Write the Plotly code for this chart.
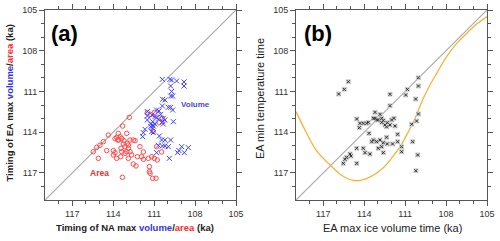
import plotly.graph_objects as go

# ---------------- data ----------------
# Panel (a): Volume (blue x)
vol_na = [110.40, 109.84, 109.72, 109.35, 108.81, 108.81, 109.79, 109.72, 109.79, 109.64,
          110.38, 110.21, 110.40, 109.96, 109.79, 109.64, 110.64, 110.82, 111.50, 111.50,
          111.15, 110.94, 110.82, 110.52, 110.33, 110.21, 110.69, 111.50, 109.59, 111.11,
          111.25, 110.94, 110.40, 110.33, 111.06, 111.25, 111.13, 111.67, 111.79, 111.84,
          111.11, 111.18, 111.06, 110.62, 110.45, 110.21, 109.79, 110.69, 110.40, 110.21,
          109.96, 108.98, 108.49, 109.18, 109.28, 108.79, 110.82, 109.89]
vol_ea = [110.11, 110.11, 110.16, 110.23, 110.30, 110.60, 110.60, 111.00, 111.34, 111.34,
          111.58, 111.63, 112.07, 112.17, 112.17, 112.37, 112.44, 112.37, 112.49, 112.81,
          112.74, 112.86, 112.90, 112.69, 112.98, 113.10, 113.04, 113.10, 113.23, 113.23,
          113.40, 113.40, 113.23, 113.40, 113.55, 113.60, 113.48, 113.79, 114.04, 114.33,
          113.70, 113.96, 114.04, 114.28, 114.58, 114.58, 114.58, 114.97, 115.02, 115.02,
          115.07, 115.07, 115.14, 115.36, 115.51, 115.51, 115.51, 115.93]

# Panel (a): Area (red circles)
area_na = [112.82, 113.31, 113.01, 114.36, 114.72, 114.97, 115.21, 113.63, 113.50, 113.75,
           113.87, 113.67, 113.60, 113.38, 113.21, 112.77, 112.53, 112.40, 112.97, 113.26,
           112.89, 113.14, 113.43, 112.89, 113.38, 113.01, 112.77, 113.99, 113.87, 113.14,
           112.65, 112.23, 111.92, 111.79, 112.04, 110.82, 110.45, 111.18, 115.46, 115.09,
           114.48, 113.99, 113.75, 113.45, 112.89, 112.53, 112.33, 111.79, 111.35, 110.99,
           110.77, 111.35, 111.30, 111.11, 110.86, 113.33, 111.43, 110.40, 111.06, 110.62,
           110.99, 111.50, 111.25]
area_ea = [112.91, 113.55, 114.09, 114.21, 114.70, 114.97, 115.12, 114.09, 114.33, 114.38,
           114.48, 114.58, 114.58, 114.46, 114.63, 114.58, 114.58, 114.63, 114.82, 114.87,
           114.95, 115.07, 115.19, 115.19, 115.44, 115.44, 115.44, 115.36, 115.51, 115.56,
           115.68, 115.81, 115.81, 115.46, 115.07, 115.07, 115.46, 115.81, 115.44, 115.93,
           115.36, 115.68, 115.93, 115.81, 115.93, 116.35, 116.49, 116.00, 116.54, 115.93,
           116.05, 116.91, 117.03, 117.40, 117.40, 117.33, 115.93, 112.98, 113.95, 113.30,
           112.55, 112.55, 112.70]

# Panel (b): EA max ice volume time vs EA min temperature time
b_vol = [115.16, 115.46, 115.87, 110.03, 110.03, 110.84, 110.96, 110.23, 112.11, 112.11,
         110.03, 110.16, 110.52, 113.21, 114.55, 114.31, 114.07, 113.82, 113.70, 113.33,
         113.21, 113.09, 112.97, 112.84, 112.72, 112.72, 112.60, 112.48, 112.31, 112.11,
         111.82, 111.99, 111.74, 112.36, 114.36, 113.65, 113.33, 113.45, 113.09, 112.84,
         112.72, 112.60, 112.36, 112.31, 111.92, 111.55, 111.55, 111.26, 111.26, 110.45,
         110.08, 110.21, 114.55, 114.07, 113.94, 113.58, 112.97, 115.04, 114.97, 115.29,
         115.41, 115.53, 114.55, 112.60]
b_tmp = [110.28, 110.85, 111.19, 109.99, 110.60, 110.85, 111.26, 111.56, 111.21, 112.05,
         112.66, 113.18, 113.42, 112.54, 113.03, 113.35, 113.35, 113.35, 113.28, 112.98,
         112.98, 113.10, 113.10, 112.69, 112.98, 113.28, 113.15, 113.47, 113.30, 113.47,
         112.98, 113.10, 113.55, 113.60, 113.67, 114.09, 114.58, 114.70, 114.70, 114.58,
         115.07, 114.78, 114.38, 114.87, 114.87, 114.16, 114.70, 115.07, 115.44, 114.70,
         115.68, 116.84, 115.19, 115.19, 115.51, 115.61, 115.19, 115.61, 115.76, 115.86,
         116.00, 116.30, 116.30, 115.51]

# Panel (b): orange curve
curve_x = [119.0, 118.27, 117.53, 116.43, 115.58, 114.60, 113.63, 112.64, 111.91, 111.30,
           110.70, 110.33, 109.67, 109.18, 108.69, 107.96, 107.22, 106.49, 105.76, 105.0]
curve_y = [112.49, 113.97, 115.32, 116.49, 117.23, 117.58, 117.33, 116.66, 115.81, 114.95,
           113.84, 113.11, 111.51, 110.53, 109.67, 108.44, 107.46, 106.72, 106.03, 105.49]

diag = [119, 105]
tick_vals = [117, 114, 111, 108, 105]
tick_text = ["117", "114", "111", "108", "105"]

BLUE = "#3f3fff"
RED = "#ff4a4a"
FONT = "Liberation Sans"

fig = go.Figure()

# Panel a
fig.add_trace(go.Scatter(x=diag, y=diag, mode="lines", line=dict(color="#aaaaaa", width=1.2),
                         xaxis="x", yaxis="y", showlegend=False, hoverinfo="skip"))
fig.add_trace(go.Scatter(x=area_na, y=area_ea, mode="markers",
                         marker=dict(symbol="circle-open", size=4.5, color=RED, line=dict(width=1)),
                         xaxis="x", yaxis="y", showlegend=False))
fig.add_trace(go.Scatter(x=vol_na, y=vol_ea, mode="markers",
                         marker=dict(symbol="x-thin-open", size=5, color=BLUE, line=dict(width=1, color=BLUE)),
                         xaxis="x", yaxis="y", showlegend=False))

# Panel b
fig.add_trace(go.Scatter(x=diag, y=diag, mode="lines", line=dict(color="#aaaaaa", width=1.2),
                         xaxis="x2", yaxis="y2", showlegend=False, hoverinfo="skip"))
fig.add_trace(go.Scatter(x=curve_x, y=curve_y, mode="lines", line=dict(color="#f7b23b", width=1.3, shape="spline"),
                         xaxis="x2", yaxis="y2", showlegend=False))
fig.add_trace(go.Scatter(x=b_vol, y=b_tmp, mode="markers",
                         marker=dict(symbol="square", size=5, color="#d2d2d2"),
                         xaxis="x2", yaxis="y2", showlegend=False, hoverinfo="skip"))
fig.add_trace(go.Scatter(x=b_vol, y=b_tmp, mode="markers",
                         marker=dict(symbol="x-thin-open", size=3, color="#333333", line=dict(width=1, color="#333333")),
                         xaxis="x2", yaxis="y2", showlegend=False))

ax_common = dict(range=[119, 105], tickvals=tick_vals, ticktext=tick_text, ticks="outside",
                 ticklen=5, tickwidth=1, tickcolor="#555", showline=True, linecolor="#555", linewidth=1,
                 mirror="allticks", showgrid=False, zeroline=False, automargin=False,
                 tickfont=dict(family=FONT, size=9, color="#333"),
                 minor=dict(tickvals=[118, 116, 115, 113, 112, 110, 109, 107, 106], ticks="outside",
                            ticklen=3, tickcolor="#555"))

fig.update_layout(
    width=500, height=241,
    margin=dict(l=0, r=0, t=0, b=0, autoexpand=False),
    paper_bgcolor="white", plot_bgcolor="white",
    xaxis=dict(domain=[0.09, 0.472], anchor="y", **ax_common),
    yaxis=dict(domain=[0.1701, 0.9585], anchor="x", **ax_common),
    xaxis2=dict(domain=[0.592, 0.974], anchor="y2", **ax_common),
    yaxis2=dict(domain=[0.1701, 0.9585], anchor="x2", **ax_common),
)

C = dict(xanchor="center", yanchor="middle", showarrow=False)
annots = [
    dict(text="<b>(a)</b>", x=0.128, y=0.859, xref="paper", yref="paper",
         font=dict(family=FONT, size=22, color="black"), **C),
    dict(text="<b>(b)</b>", x=0.636, y=0.859, xref="paper", yref="paper",
         font=dict(family=FONT, size=22, color="black"), **C),
    dict(text="<b>Volume</b>", x=108.0, y=111.93, xref="x", yref="y",
         font=dict(family=FONT, size=8, color="#4a4acc"), **C),
    dict(text="<b>Area</b>", x=114.97, y=117.03, xref="x", yref="y",
         font=dict(family=FONT, size=8.5, color="#e83030"), **C),
    dict(text='<b>Timing of EA max <span style="color:#3535e0">volume</span>/<span style="color:#ff2a2a">area</span> (ka)</b>',
         x=0.02, y=0.5705, xref="paper", yref="paper", textangle=-90,
         font=dict(family=FONT, size=9.5, color="#222"), **C),
    dict(text='<b>Timing of NA max <span style="color:#3535e0">volume</span>/<span style="color:#ff2a2a">area</span> (ka)</b>',
         x=0.27, y=0.054, xref="paper", yref="paper",
         font=dict(family=FONT, size=9.5, color="#222"), **C),
    dict(text="EA min temperature time", x=0.52, y=0.589, xref="paper", yref="paper",
         textangle=-90, font=dict(family=FONT, size=11, color="#222"), **C),
    dict(text="EA max ice volume time (ka)", x=0.784, y=0.054, xref="paper", yref="paper",
         font=dict(family=FONT, size=11, color="#222"), **C),
]
fig.update_layout(annotations=annots)

fig.write_html("out.html", config={"displayModeBar": False},
               post_script="document.body.style.margin='0';document.body.style.overflow='hidden';")
